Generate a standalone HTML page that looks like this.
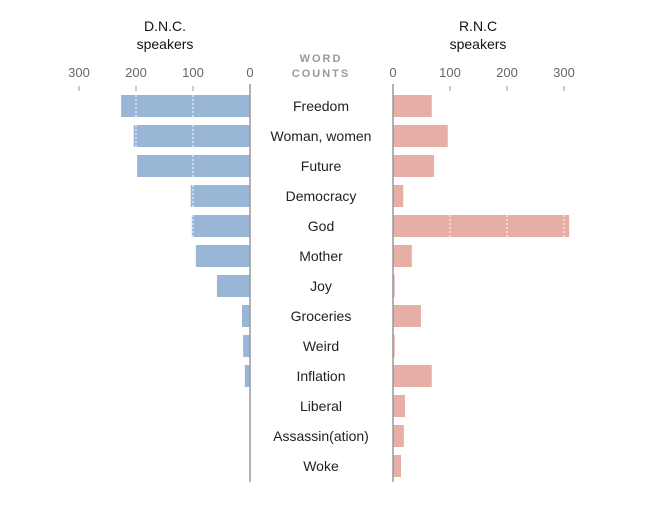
<!DOCTYPE html>
<html><head><meta charset="utf-8"><style>
body{margin:0;background:#fff;font-family:"Liberation Sans",sans-serif;}
svg text{font-family:"Liberation Sans",sans-serif;}
</style></head><body>
<svg width="652" height="515" id="chart">
<text x="165" y="31" text-anchor="middle" font-size="14" fill="#111">D.N.C.</text>
<text x="165" y="49" text-anchor="middle" font-size="14" fill="#111">speakers</text>
<text x="478" y="31" text-anchor="middle" font-size="14" fill="#111">R.N.C</text>
<text x="478" y="49" text-anchor="middle" font-size="14" fill="#111">speakers</text>
<text x="321" y="62" text-anchor="middle" font-size="11" font-weight="bold" letter-spacing="2" fill="#999">WORD</text>
<text x="321" y="77" text-anchor="middle" font-size="11" font-weight="bold" letter-spacing="2" fill="#999">COUNTS</text>
</svg>
<script>
const categories=["Freedom","Woman, women","Future","Democracy","God","Mother","Joy","Groceries","Weird","Inflation","Liberal","Assassin(ation)","Woke"];
const dncValues=[226,204,198,104,102,95,58,14,12,9,1,1,1];
const rncValues=[68,96,72,18,309,33,3,49,3,68,21,19,14];
const ticks=[0,100,200,300];
const svg=document.getElementById('chart');
const NS='http://www.w3.org/2000/svg';
const k=0.57, L0=250, R0=393;
const xL=v=>L0-v*k, xR=v=>R0+v*k;
const yC=i=>106+i*30;
function mk(t,a){const e=document.createElementNS(NS,t);for(const n in a)e.setAttribute(n,a[n]);svg.appendChild(e);return e;}
ticks.forEach(t=>{
  [[xL,'dnc'],[xR,'rnc']].forEach(([f,s])=>{
    const tx=mk('text',{x:f(t),y:77,'text-anchor':'middle','font-size':13,fill:'#666'});
    tx.textContent=t;
    
    
    if(t>0){const l=mk('line',{x1:f(t),x2:f(t),y1:86,y2:91,stroke:'#999'});
    
    }
  });
});
categories.forEach((c,i)=>{
  const y=yC(i);
  const b1=mk('rect',{x:xL(dncValues[i]),y:y-11,width:dncValues[i]*k,height:22,fill:'#9ab6d6'});
  
  
  const b2=mk('rect',{x:R0,y:y-11,width:rncValues[i]*k,height:22,fill:'#e6aea5'});
  
  
  [100,200,300].forEach(t=>{
    if(dncValues[i]>t){const g=mk('line',{x1:xL(t),x2:xL(t),y1:y-11,y2:y+11,stroke:'#fff','stroke-dasharray':'2,2','stroke-width':1});
    
    }
    if(rncValues[i]>t){const g=mk('line',{x1:xR(t),x2:xR(t),y1:y-11,y2:y+11,stroke:'#fff','stroke-dasharray':'2,2','stroke-width':1});
    
    }
  });
  const t=mk('text',{x:321,y:y+5,'text-anchor':'middle','font-size':14,fill:'#222'});
  t.textContent=c;
  
  
});
const a1=mk('line',{x1:L0,x2:L0,y1:84,y2:482,stroke:'#999','stroke-width':1.5});


const a2=mk('line',{x1:R0,x2:R0,y1:84,y2:482,stroke:'#999','stroke-width':1.5});


</script>
</body></html>
